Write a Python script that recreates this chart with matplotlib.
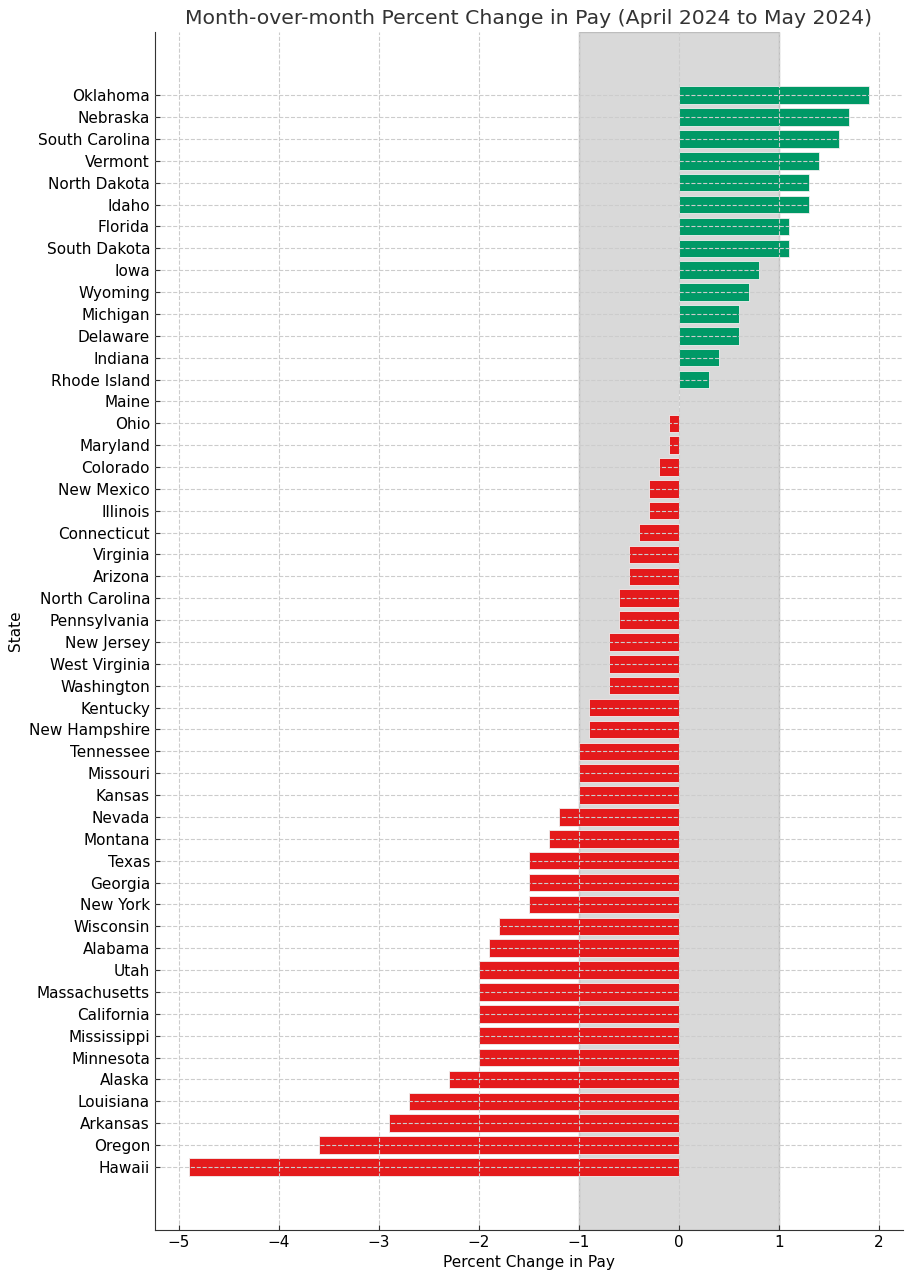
import matplotlib.pyplot as plt

states = ['Oklahoma', 'Nebraska', 'South Carolina', 'Vermont', 'North Dakota', 'Idaho',
          'Florida', 'South Dakota', 'Iowa', 'Wyoming', 'Michigan', 'Delaware', 'Indiana',
          'Rhode Island', 'Maine', 'Ohio', 'Maryland', 'Colorado', 'New Mexico', 'Illinois',
          'Connecticut', 'Virginia', 'Arizona', 'North Carolina', 'Pennsylvania', 'New Jersey',
          'West Virginia', 'Washington', 'Kentucky', 'New Hampshire', 'Tennessee', 'Missouri',
          'Kansas', 'Nevada', 'Montana', 'Texas', 'Georgia', 'New York', 'Wisconsin', 'Alabama',
          'Utah', 'Massachusetts', 'California', 'Mississippi', 'Minnesota', 'Alaska',
          'Louisiana', 'Arkansas', 'Oregon', 'Hawaii']
pct_change = [1.9, 1.7, 1.6, 1.4, 1.3, 1.3,
              1.1, 1.1, 0.8, 0.7, 0.6, 0.6, 0.4,
              0.3, 0.0, -0.1, -0.1, -0.2, -0.3, -0.3,
              -0.4, -0.5, -0.5, -0.6, -0.6, -0.7,
              -0.7, -0.7, -0.9, -0.9, -1.0, -1.0,
              -1.0, -1.2, -1.3, -1.5, -1.5, -1.5, -1.8, -1.9,
              -2.0, -2.0, -2.0, -2.0, -2.0, -2.3,
              -2.7, -2.9, -3.6, -4.9]

# bottom-up order for barh
states = states[::-1]
pct_change = pct_change[::-1]
colors = ['#009966' if v >= 0 else '#e41a1c' for v in pct_change]

fig, ax = plt.subplots(figsize=(9.11, 12.8), dpi=100)
fig.subplots_adjust(left=0.170, right=0.991, top=0.975, bottom=0.039)

ax.axvspan(-1, 1, facecolor='#d9d9d9', edgecolor='#bdbdbd', linewidth=1, zorder=0)
ax.barh(states, pct_change, color=colors, edgecolor='#f0f0f0', linewidth=0.6, zorder=1)
ax.grid(True, linestyle='--', color='#cccccc', linewidth=0.8, zorder=2)
ax.set_axisbelow(False)

ax.set_title('Month-over-month Percent Change in Pay (April 2024 to May 2024)',
             fontsize=14.7, color='#333333')
ax.set_xlabel('Percent Change in Pay', fontsize=11)
ax.set_ylabel('State', fontsize=11)
ax.tick_params(labelsize=11, direction='in', color='#333333')
ax.spines['top'].set_visible(False)
ax.spines['right'].set_visible(False)
ax.spines['left'].set_color('#333333')
ax.spines['bottom'].set_color('#333333')

plt.savefig('out.png')
